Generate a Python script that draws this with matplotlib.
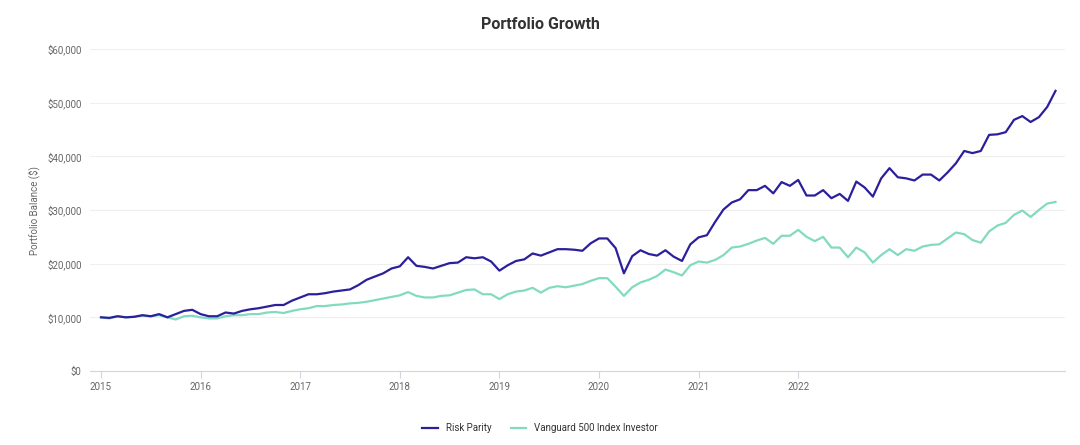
import matplotlib
matplotlib.use("Agg")
import matplotlib.pyplot as plt
import numpy as np
from matplotlib.ticker import FuncFormatter

# monthly balances, Jan 2015 onwards
risk_parity = [
    10000, 9900, 10200, 10000, 10100, 10400, 10200, 10600, 10000, 10600, 11200, 11400,
    10600, 10200, 10200, 10900, 10700, 11200, 11500, 11700, 12000, 12300, 12300, 13100,
    13700, 14300, 14300, 14500, 14800, 15000, 15200, 16000, 17000, 17600, 18200, 19100,
    19500, 21200, 19600, 19400, 19100, 19600, 20100, 20200, 21200, 21000, 21200, 20400,
    18700, 19700, 20500, 20800, 21900, 21500, 22100, 22700, 22700, 22600, 22400, 23800,
    24700, 24700, 22900, 18200, 21400, 22500, 21800, 21500, 22500, 21300, 20500, 23600,
    24900, 25300, 27800, 30100, 31400, 32000, 33700, 33700, 34500, 33100, 35200, 34500,
    35600, 32700, 32700, 33700, 32200, 33000, 31700, 35300, 34200, 32500, 35900, 37800,
    36100, 35900, 35500, 36600, 36600, 35500, 37000, 38700, 41000, 40600, 41000, 44000,
    44100, 44500, 46800, 47500, 46400, 47300, 49200, 52200,
]
benchmark = [
    10000, 9800, 10200, 10000, 10100, 10300, 10200, 10400, 10000, 9600, 10200, 10300,
    10000, 9800, 9800, 10200, 10400, 10400, 10600, 10600, 10900, 11000, 10800, 11200,
    11500, 11700, 12100, 12100, 12300, 12400, 12600, 12700, 12900, 13200, 13500, 13800,
    14100, 14700, 14000, 13700, 13700, 14000, 14100, 14600, 15100, 15200, 14300, 14300,
    13400, 14300, 14800, 15000, 15500, 14600, 15500, 15800, 15600, 15900, 16200, 16800,
    17300, 17300, 15700, 14000, 15600, 16500, 17000, 17700, 18900, 18400, 17800, 19700,
    20400, 20200, 20700, 21600, 23000, 23200, 23700, 24300, 24800, 23700, 25200, 25200,
    26300, 25000, 24200, 25000, 23000, 23000, 21200, 23000, 22100, 20200, 21600, 22700,
    21600, 22700, 22400, 23200, 23500, 23600, 24700, 25800, 25500, 24400, 23900, 26000,
    27100, 27600, 29100, 29900, 28700, 30000, 31200, 31500,
]
series_names = ["Risk Parity", "Vanguard 500 Index Investor"]
year_ticks = [2015, 2016, 2017, 2018, 2019, 2020, 2021, 2022]
balance_ticks = [0, 10000, 20000, 30000, 40000, 50000, 60000]

plt.rcParams["font.family"] = ["Roboto", "DejaVu Sans"]

months = 2015 + np.arange(len(risk_parity)) / 12.0

fig = plt.figure(figsize=(10.8, 4.45), dpi=100)
ax = fig.add_axes([90 / 1080, 74 / 445, 975 / 1080, 322 / 445])

ax.plot(months, risk_parity, color="#2b1f9c", lw=1.6, label=series_names[0], zorder=3)
ax.plot(months, benchmark, color="#82dbc1", lw=1.6, label=series_names[1], zorder=2)

ax.set_xlim(2015 + (90 - 101) / 99.6, 2015 + (1065 - 101) / 99.6)
ax.set_ylim(0, 60000)
ax.set_yticks(balance_ticks)
ax.yaxis.set_major_formatter(FuncFormatter(lambda v, _: f"${v:,.0f}"))
ax.set_xticks(year_ticks)
ax.set_xticklabels([str(y) for y in year_ticks])

ax.grid(axis="y", color="#efefef", lw=0.8)
ax.set_axisbelow(True)
for side in ["top", "right", "left"]:
    ax.spines[side].set_visible(False)
ax.spines["bottom"].set_color("#d0d6e0")
ax.tick_params(axis="y", length=0, labelsize=7, colors="#666666", pad=6)
ax.tick_params(axis="x", length=5, color="#d0d6e0", labelsize=7, labelcolor="#666666", pad=3)

ax.set_ylabel("Portfolio Balance ($)", fontsize=7, color="#666666", labelpad=5)
fig.text(0.5, 0.945, "Portfolio Growth", ha="center", va="center",
         fontsize=11.5, fontweight="bold", color="#333333")

fig.legend(loc="center", bbox_to_anchor=(0.5, 0.038), ncol=2, frameon=False,
           fontsize=7, handlelength=1.6, columnspacing=2.0, labelcolor="#333333")

fig.savefig("out.png", dpi=100)
plt.close(fig)
